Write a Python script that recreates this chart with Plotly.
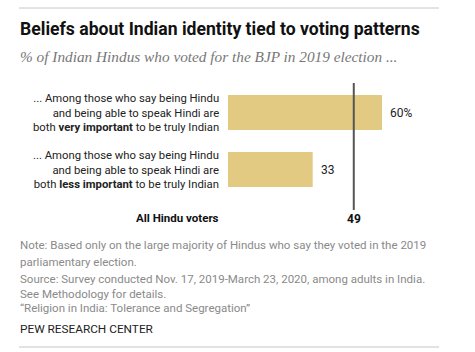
import plotly.graph_objects as go

W, H = 475, 352

categories = [
    "... Among those who say being Hindu<br>and being able to speak Hindi are<br>both <b>very important</b> to be truly Indian",
    "... Among those who say being Hindu<br>and being able to speak Hindi are<br>both <b>less important</b> to be truly Indian",
]
values = [60, 33]
value_labels = ["60%", "33"]
all_voters_label = "All Hindu voters"
all_voters_value = 49

title = "Beliefs about Indian identity tied to voting patterns"
subtitle = "% of Indian Hindus who voted for the BJP in 2019 election ..."
notes = [
    "Note: Based only on the large majority of Hindus who say they voted in the 2019",
    "parliamentary election.",
    "Source: Survey conducted Nov. 17, 2019-March 23, 2020, among adults in India.",
    "See Methodology for details.",
    "\u201cReligion in India: Tolerance and Segregation\u201d",
]
brand = "PEW RESEARCH CENTER"

SANS = "Roboto, Arial, sans-serif"
SERIF = "Liberation Serif, Georgia, serif"


def px(x):
    return x / W


def py(y):
    return 1 - y / H


ypos = list(range(len(categories)))

fig = go.Figure()
fig.add_trace(go.Bar(
    x=values, y=ypos, orientation="h",
    marker=dict(color="#e2ca83", line=dict(width=0)),
    width=0.614, hoverinfo="skip",
))

annotations = []
# category labels
for i, c in enumerate(categories):
    annotations.append(dict(x=0, y=i, xref="x", yref="y", text=c, showarrow=False,
                            xanchor="right", yanchor="middle", align="right", xshift=-7,
                            font=dict(family=SANS, size=11.3, color="#222")))
# value labels
for i, (v, t) in enumerate(zip(values, value_labels)):
    annotations.append(dict(x=v, y=i, xref="x", yref="y", text=t, showarrow=False,
                            xanchor="left", yanchor="middle", xshift=6,
                            font=dict(family=SANS, size=12, color="#222")))
# all hindu voters
annotations.append(dict(x=px(221), y=py(218), xref="paper", yref="paper", text="<b>" + all_voters_label + "</b>",
                        showarrow=False, xanchor="right", yanchor="middle",
                        font=dict(family=SANS, size=11.5, color="#111")))
annotations.append(dict(x=all_voters_value, y=py(219), xref="x", yref="paper", text="<b>%d</b>" % all_voters_value,
                        showarrow=False, xanchor="center", yanchor="middle",
                        font=dict(family=SANS, size=12, color="#111")))
# title / subtitle
annotations.append(dict(x=px(18), y=py(29), xref="paper", yref="paper", text="<b>" + title + "</b>",
                        showarrow=False, xanchor="left", yanchor="middle",
                        font=dict(family=SANS, size=17.6, color="#111")))
annotations.append(dict(x=px(18), y=py(57), xref="paper", yref="paper", text="<i>" + subtitle + "</i>",
                        showarrow=False, xanchor="left", yanchor="middle",
                        font=dict(family=SERIF, size=15.3, color="#777")))
# notes
note_y = [245, 262, 279, 294, 308]
for t, yy in zip(notes, note_y):
    annotations.append(dict(x=px(18), y=py(yy), xref="paper", yref="paper", text=t,
                            showarrow=False, xanchor="left", yanchor="middle",
                            font=dict(family=SANS, size=11.5, color="#8a8a8a")))
annotations.append(dict(x=px(18), y=py(329), xref="paper", yref="paper", text=brand,
                        showarrow=False, xanchor="left", yanchor="middle",
                        font=dict(family=SANS, size=11.8, color="#222")))

shapes = [
    dict(type="line", xref="paper", yref="paper", x0=px(19), x1=px(439), y0=py(8), y1=py(8),
         line=dict(color="#c8c8c8", width=1)),
    dict(type="line", xref="paper", yref="paper", x0=px(19), x1=px(439), y0=py(347), y1=py(347),
         line=dict(color="#d8d8d8", width=1.5)),
    dict(type="line", xref="x", yref="paper", x0=all_voters_value, x1=all_voters_value,
         y0=py(210), y1=py(83), line=dict(color="#555", width=2)),
]

fig.update_layout(
    width=W, height=H,
    margin=dict(l=0, r=0, t=0, b=0),
    paper_bgcolor="white", plot_bgcolor="white",
    showlegend=False,
    xaxis=dict(domain=[px(228), px(382)], range=[0, 60], visible=False, fixedrange=True),
    yaxis=dict(domain=[py(212), py(83)], range=[1.7456, -0.5175], visible=False, fixedrange=True),
    annotations=annotations,
    shapes=shapes,
)

fig.write_html("out.html")
